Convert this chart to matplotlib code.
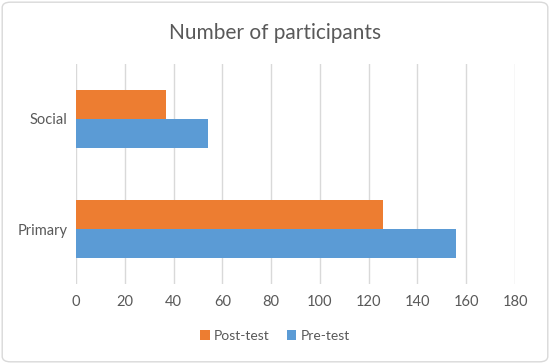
import matplotlib
matplotlib.use("Agg")
import matplotlib.pyplot as plt
from matplotlib.patches import FancyBboxPatch
import numpy as np

plt.rcParams['font.family'] = ['Lato', 'DejaVu Sans']

categories = ["Primary", "Social"]
pre_test = [156, 54]
post_test = [126, 37]
xticks = [0, 20, 40, 60, 80, 100, 120, 140, 160, 180]

fig = plt.figure(figsize=(5.5, 3.64), dpi=100)
ax = fig.add_axes([76/550, 1-284/364, (515-76)/550, (284-64)/364])

y = np.arange(len(categories))
h = 0.265
ax.barh(y - h/2, pre_test, height=h, color="#5B9BD5", label="Pre-test", zorder=3)
ax.barh(y + h/2, post_test, height=h, color="#ED7D31", label="Post-test", zorder=3)

ax.set_xlim(0, 180)
ax.set_ylim(-0.5, 1.5)
ax.set_xticks(xticks)
ax.set_yticks(y)
ax.set_yticklabels(categories)
ax.xaxis.grid(True, color="#D9D9D9", linewidth=1, zorder=0)
for s in ax.spines.values():
    s.set_visible(False)
ax.tick_params(axis='both', length=0, colors="#595959", labelsize=10.5)
ax.tick_params(axis='x', pad=8)
ax.tick_params(axis='y', pad=6)

fig.text(0.5, 1-33/364, "Number of participants", ha="center", va="center",
         fontsize=15, color="#595959")

handles, labels = ax.get_legend_handles_labels()
fig.legend(handles[::-1], labels[::-1], loc="center", bbox_to_anchor=(0.5, 1-336/364),
           ncol=2, frameon=False, fontsize=10, labelcolor="#595959",
           handlelength=0.7, handleheight=0.7, handletextpad=0.3, columnspacing=1.2)

border = FancyBboxPatch((0.004, 0.006), 0.992, 0.988, boxstyle="round,pad=0,rounding_size=0.015",
                        transform=fig.transFigure, fill=False, edgecolor="#D9D9D9", linewidth=1)
fig.patches.append(border)

fig.savefig("out.png", dpi=100)
